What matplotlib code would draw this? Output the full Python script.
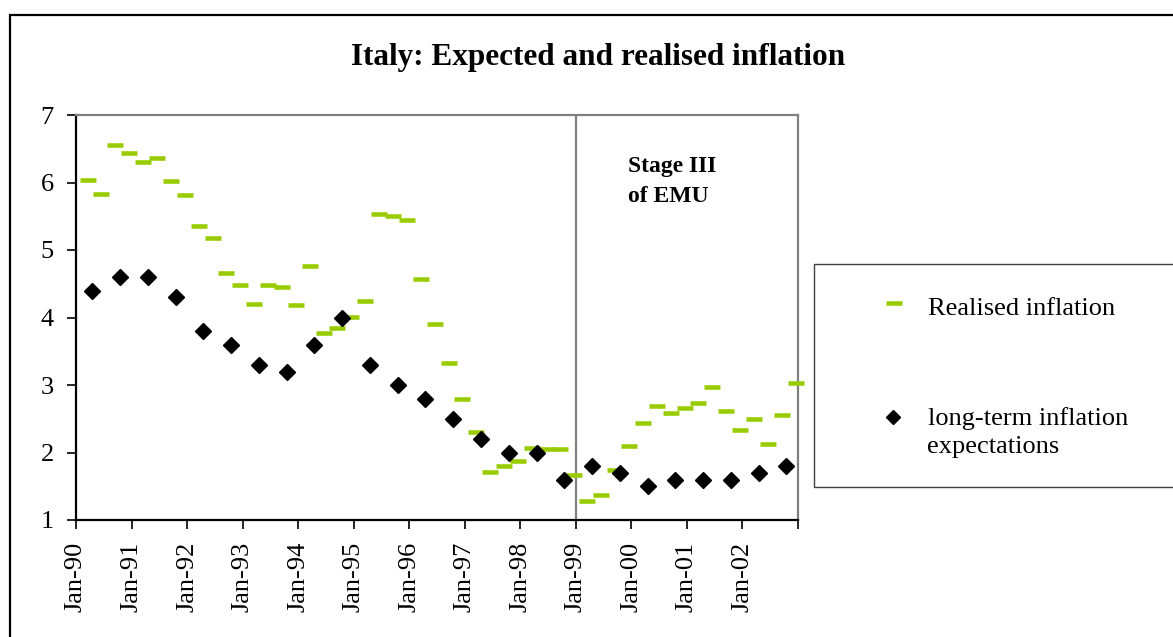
import matplotlib
matplotlib.use('Agg')
import matplotlib.pyplot as plt
from matplotlib.patches import Rectangle
from matplotlib.lines import Line2D
import numpy as np

plt.rcParams['font.family'] = ['Liberation Serif', 'DejaVu Serif']

LIME = '#99CC00'
GREY = '#808080'
W, H = 1173, 637

# quarterly realised inflation (% y/y), first obs ~ Mar-90
realised = [6.03, 5.83, 6.55, 6.44, 6.31, 6.36, 6.02, 5.81, 5.36, 5.18,
            4.66, 4.48, 4.20, 4.48, 4.45, 4.19, 4.77, 3.77, 3.84, 4.01,
            4.25, 5.54, 5.51, 5.44, 4.57, 3.91, 3.32, 2.80, 2.30, 1.71,
            1.80, 1.88, 2.06, 2.05, 2.05, 1.67, 1.28, 1.37, 1.74, 2.09,
            2.44, 2.69, 2.59, 2.66, 2.73, 2.97, 2.61, 2.34, 2.49, 2.13,
            2.55, 3.03]
# half-yearly long-term expectations, first obs ~ Apr-90
expected = [4.4, 4.6, 4.6, 4.3, 3.8, 3.6, 3.3, 3.2, 3.6, 4.0,
            3.3, 3.0, 2.8, 2.5, 2.2, 2.0, 2.0, 1.6, 1.8, 1.7,
            1.5, 1.6, 1.6, 1.6, 1.7, 1.8]
tick_labels = ['Jan-90', 'Jan-91', 'Jan-92', 'Jan-93', 'Jan-94', 'Jan-95', 'Jan-96',
               'Jan-97', 'Jan-98', 'Jan-99', 'Jan-00', 'Jan-01', 'Jan-02']
emu_start = 108  # months after Jan-90

# x in months since Jan-90 (centre of monthly category)
x_real = 2.5 + 3 * np.arange(len(realised))
x_exp = 3.5 + 6 * np.arange(len(expected))


def fx(px):
    return px / W


def fy(py):
    return 1 - py / H


fig = plt.figure(figsize=(11.73, 6.37), dpi=100, facecolor='white')
ax = fig.add_axes([fx(76), fy(520), 722 / W, 405 / H])

ax.axvline(emu_start, color=GREY, lw=1.6, zorder=1)
real_style = dict(linestyle='none', marker='_', markersize=11.5,
                  markeredgewidth=3.3, color=LIME)
exp_style = dict(linestyle='none', marker='D', markersize=8.2, color='black')
ax.plot(x_real, realised, clip_on=False, zorder=3, **real_style)
ax.plot(x_exp, expected, zorder=4, **exp_style)

ax.set_xlim(0, 156)
ax.set_ylim(1, 7)
ax.set_xticks(np.arange(0, 157, 12))
ax.set_xticklabels(tick_labels + [''], rotation=90, fontsize=19)
ax.set_yticks(range(1, 8))
ax.set_yticklabels([str(v) for v in range(1, 8)], fontsize=19)
ax.tick_params(axis='x', direction='out', length=6.5, width=1.2, pad=9)
ax.tick_params(axis='y', direction='out', length=6.5, width=1.2, pad=9.5)

for side in ['left', 'bottom']:
    ax.spines[side].set_color('black')
    ax.spines[side].set_linewidth(1.6)
for side in ['top', 'right']:
    ax.spines[side].set_color(GREY)
    ax.spines[side].set_linewidth(1.6)

ax.text(119.3, 6.16, 'Stage III', fontsize=17, fontweight='bold', va='baseline')
ax.text(119.3, 5.716, 'of EMU', fontsize=17, fontweight='bold', va='baseline')

fig.text(fx(598), fy(64.5), 'Italy: Expected and realised inflation',
         ha='center', va='baseline', fontsize=22.5, fontweight='bold')

# legend box (extends past right edge as in the original)
fig.add_artist(Rectangle((fx(814), fy(487)), 400 / W, 223 / H,
                         transform=fig.transFigure, facecolor='white',
                         edgecolor='#404040', linewidth=1.0))
fig.add_artist(Line2D([fx(894)], [fy(303)], transform=fig.transFigure, **real_style))
fig.add_artist(Line2D([fx(893)], [fy(417)], transform=fig.transFigure,
                      linestyle='none', marker='D', markersize=7, color='black'))
fig.text(fx(927.5), fy(315), 'Realised inflation', fontsize=19, va='baseline')
fig.text(fx(927.5), fy(424.5), 'long-term inflation', fontsize=19, va='baseline')
fig.text(fx(927.5), fy(453.5), 'expectations', fontsize=19, va='baseline')

# outer chart border
fig.add_artist(Rectangle((fx(10), -0.05), 1.1, fy(15) + 0.05,
                         transform=fig.transFigure, facecolor='none',
                         edgecolor='black', linewidth=1.6))

plt.savefig('out.png', dpi=100, facecolor='white')
plt.close()
